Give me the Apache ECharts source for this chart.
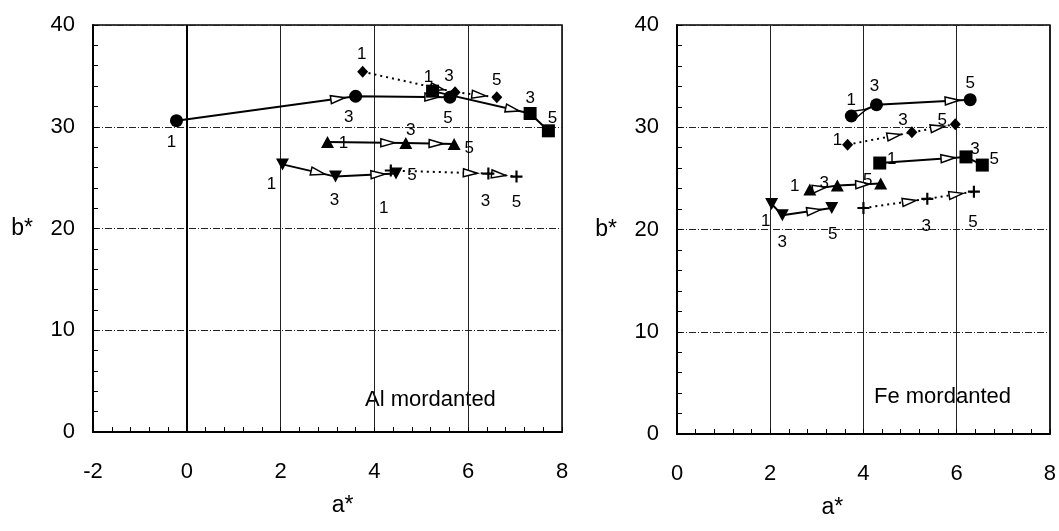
<!DOCTYPE html>
<html>
<head>
<meta charset="utf-8">
<script src="https://cdn.jsdelivr.net/npm/echarts@6/dist/echarts.min.js"></script>
<style>
html,body{margin:0;padding:0;background:#fff;}
#chart{width:1059px;height:531px;}
</style>
</head>
<body>
<div id="chart"></div>
<script>
// ---- data ----
const steps = ['1', '3', '5'];
const xTicks = [-2, 0, 2, 4, 6, 8];
const yTicks = [0, 10, 20, 30, 40];

// Al mordanted (a*, b*)
const alCircleA   = [-0.22, 3.60, 5.61];
const alCircleB   = [30.6, 33.0, 32.9];
const alSquareA   = [5.24, 7.32, 7.71];
const alSquareB   = [33.5, 31.3, 29.6];
const alDiamondA  = [3.75, 5.72, 6.61];
const alDiamondB  = [35.4, 33.4, 32.9];
const alTriUpA    = [3.00, 4.67, 5.70];
const alTriUpB    = [28.5, 28.4, 28.3];
const alTriDownA  = [2.04, 3.17, 4.46];
const alTriDownB  = [26.3, 25.1, 25.4];
const alPlusA     = [4.35, 6.43, 7.03];
const alPlusB     = [25.7, 25.4, 25.1];

// Fe mordanted (a*, b*)
const feCircleA   = [3.74, 4.28, 6.29];
const feCircleB   = [31.1, 32.2, 32.7];
const feDiamondA  = [3.66, 5.04, 5.97];
const feDiamondB  = [28.3, 29.5, 30.3];
const feSquareA   = [4.35, 6.20, 6.55];
const feSquareB   = [26.5, 27.1, 26.3];
const feTriUpA    = [2.85, 3.44, 4.37];
const feTriUpB    = [23.9, 24.3, 24.5];
const feTriDownA  = [2.03, 2.26, 3.32];
const feTriDownB  = [22.5, 21.4, 22.1];
const fePlusA     = [4.00, 5.37, 6.37];
const fePlusB     = [22.1, 23.0, 23.7];

// ---- styles ----
const FONT = 'Liberation Sans';
const PLUS = 'path://M4.1,0H5.9V4.1H10V5.9H5.9V10H4.1V5.9H0V4.1H4.1Z';
const shapes = {
  circle:  {symbol: 'circle', size: 13, rotate: 0, dash: 'solid'},
  square:  {symbol: 'rect', size: 13, rotate: 0, dash: 'solid'},
  diamond: {symbol: 'diamond', size: [11, 12], rotate: 0, dash: [2, 4]},
  triUp:   {symbol: 'triangle', size: [13, 12], rotate: 0, dash: 'solid'},
  triDown: {symbol: 'triangle', size: [13, 12], rotate: 180, dash: 'solid'},
  plus:    {symbol: PLUS, size: 12, rotate: 0, dash: [2, 4]}
};
// label offsets (pixels from marker centre) per point
const alLabelOffsets = {
  circle:  [[-5, 22], [-7, 21], [-2, 21]],
  square:  [[-4, -14], [0, -15], [4, -13]],
  diamond: [[-1, -17], [-6, -16], [0, -17]],
  triUp:   [[16, 1], [5, -13], [15, 4]],
  triDown: [[-11, 20], [-1, 24], [16, 2]],
  plus:    [[-7, 38], [-3, 28], [0, 26]]
};
const feLabelOffsets = {
  circle:  [[0, -16], [-2, -18], [0, -16]],
  diamond: [[-10, -4], [-9, -12], [-13, -4]],
  square:  [[12, -4], [9, -8], [12, -6]],
  triUp:   [[-15, -3], [-13, -2], [-13, -3]],
  triDown: [[-6, 17], [0, 27], [1, 26]],
  plus:    [null, [-1, 27], [-1, 31]]
};

const alGroups = [
  ['circle', alCircleA, alCircleB], ['square', alSquareA, alSquareB],
  ['diamond', alDiamondA, alDiamondB], ['triUp', alTriUpA, alTriUpB],
  ['triDown', alTriDownA, alTriDownB], ['plus', alPlusA, alPlusB]
];
const feGroups = [
  ['circle', feCircleA, feCircleB], ['diamond', feDiamondA, feDiamondB],
  ['square', feSquareA, feSquareB], ['triUp', feTriUpA, feTriUpB],
  ['triDown', feTriDownA, feTriDownB], ['plus', fePlusA, fePlusB]
];

function arrowRender(params, api) {
  const p1 = api.coord([api.value(0), api.value(1)]);
  const p2 = api.coord([api.value(2), api.value(3)]);
  const dx = p2[0] - p1[0], dy = p2[1] - p1[1];
  const len = Math.sqrt(dx * dx + dy * dy);
  if (len < 26) return null;
  const ux = dx / len, uy = dy / len;
  const nx = -uy, ny = ux;
  const tip = [p2[0] - ux * 11, p2[1] - uy * 11];
  const base = [tip[0] - ux * 14, tip[1] - uy * 14];
  return {
    type: 'polygon',
    shape: {points: [tip, [base[0] + nx * 4, base[1] + ny * 4], [base[0] - nx * 4, base[1] - ny * 4]]},
    style: {fill: '#fff', stroke: '#000', lineWidth: 1.5},
    z2: 5
  };
}

function buildSeries(groups, offsets, idx) {
  const out = [];
  groups.forEach(function (g) {
    const st = shapes[g[0]], A = g[1], B = g[2];
    const pts = A.map(function (a, i) { return [a, B[i]]; });
    out.push({
      type: 'line', xAxisIndex: idx, yAxisIndex: idx, data: pts,
      symbol: 'none', silent: true, z: 2,
      lineStyle: {color: '#000', width: 2, type: st.dash}
    });
    const segs = [];
    for (let i = 0; i < A.length - 1; i++) segs.push([A[i], B[i], A[i + 1], B[i + 1]]);
    out.push({
      type: 'custom', xAxisIndex: idx, yAxisIndex: idx, data: segs, z: 3,
      encode: {x: [0, 2], y: [1, 3]}, renderItem: arrowRender, silent: true
    });
    out.push({
      type: 'scatter', xAxisIndex: idx, yAxisIndex: idx, z: 4, silent: true,
      symbol: st.symbol, symbolSize: st.size, symbolRotate: st.rotate,
      itemStyle: {color: '#000', opacity: 1},
      data: pts.map(function (p, i) {
        const off = offsets[g[0]][i];
        return {
          value: p, name: steps[i],
          label: off ? {show: true, position: 'inside', offset: off, formatter: steps[i],
                        color: '#000', fontSize: 17, fontFamily: FONT, textBorderWidth: 0} : {show: false}
        };
      })
    });
  });
  return out;
}

function xAxis(idx, min, padding) {
  return {
    type: 'value', gridIndex: idx, min: min, max: 8, interval: 2,
    name: 'a*', nameLocation: 'middle', nameGap: 62,
    nameTextStyle: {fontSize: 23, fontFamily: FONT, color: '#000', padding: padding},
    axisLine: {show: true, onZero: false, lineStyle: {color: '#000', width: 2}},
    axisTick: {show: true, inside: true, length: 5, lineStyle: {color: '#000'}},
    minorTick: {show: true, splitNumber: 5, length: 5, lineStyle: {color: '#000', width: 1}},
    axisLabel: {fontSize: 22, fontFamily: FONT, color: '#000', margin: 29},
    splitLine: {show: true, lineStyle: {color: '#222', width: 1, type: 'solid'}}
  };
}
function yAxis(idx) {
  return {
    type: 'value', gridIndex: idx, min: 0, max: 40, interval: 10,
    name: 'b*', nameLocation: 'middle', nameRotate: 0, nameGap: 60,
    nameTextStyle: {fontSize: 23, fontFamily: FONT, color: '#000', align: 'right'},
    axisLine: {show: true, onZero: false, lineStyle: {color: '#000', width: 2}},
    axisTick: {show: true, inside: true, length: 5, lineStyle: {color: '#000'}},
    minorTick: {show: true, splitNumber: 5, length: 5, lineStyle: {color: '#000', width: 1}},
    axisLabel: {fontSize: 22, fontFamily: FONT, color: '#000', margin: 18},
    splitLine: {show: true, lineStyle: {color: '#222', width: 1, type: [7, 2, 1, 2]}}
  };
}

const alSeries = buildSeries(alGroups, alLabelOffsets, 0);
alSeries[0].markLine = {
  symbol: 'none', silent: true, label: {show: false},
  lineStyle: {color: '#000', width: 2, type: 'solid'},
  data: [{xAxis: 0}]
};

const option = {
  backgroundColor: '#fff',
  animation: false,
  grid: [
    {left: 93, right: 497, top: 25, bottom: 99, show: true, borderColor: '#000', borderWidth: 1.5},
    {left: 677, right: 3, top: 25, bottom: 97, show: true, borderColor: '#000', borderWidth: 1.5}
  ],
  xAxis: [xAxis(0, -2, [0, 0, 0, 30]), xAxis(1, 0, [0, 62, 0, 0])],
  yAxis: [yAxis(0), yAxis(1)],
  graphic: [
    {type: 'text', left: 365, top: 389, style: {text: 'Al mordanted', fontSize: 22, fontFamily: FONT, fill: '#000'}},
    {type: 'text', left: 874, top: 386, style: {text: 'Fe mordanted', fontSize: 22, fontFamily: FONT, fill: '#000'}}
  ],
  series: alSeries.concat(buildSeries(feGroups, feLabelOffsets, 1))
};

const chart = echarts.init(document.getElementById('chart'), null, {renderer: 'canvas'});
chart.setOption(option);
</script>
</body>
</html>
